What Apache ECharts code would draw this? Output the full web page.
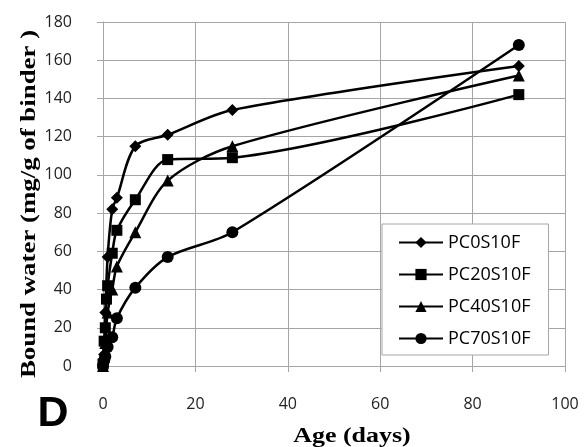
<!DOCTYPE html>
<html>
<head>
<meta charset="utf-8">
<script src="https://cdn.jsdelivr.net/npm/echarts@6/dist/echarts.min.js"></script>
<style>
  html, body { margin: 0; padding: 0; background: #fff; }
  #chart { width: 584px; height: 447px; }
</style>
</head>
<body>
<div id="chart"></div>
<script>
// age in days, bound water in mg/g of binder
const names = ['PC0S10F', 'PC20S10F', 'PC40S10F', 'PC70S10F'];
const symbols = ['diamond', 'rect', 'triangle', 'circle'];
const symbolSizes = [12, 11, 12, 12];

const pc0Age = [0, 0.25, 0.5, 1, 2, 3, 7, 14, 28, 90];
const pc0Water = [1, 6, 28, 57, 82, 88, 115, 121, 134, 157];

const pc20Age = [0, 0.25, 0.5, 0.75, 1, 2, 3, 7, 14, 28, 90];
const pc20Water = [1, 13, 20, 35, 42, 59, 71, 87, 108, 109, 142];

const pc40Age = [0, 0.25, 0.5, 1, 2, 3, 7, 14, 28, 90];
const pc40Water = [0, 5, 12, 28, 40, 52, 70, 97, 115, 152];

const pc70Age = [0, 0.25, 0.5, 1, 2, 3, 7, 14, 28, 90];
const pc70Water = [0, 3, 5, 10, 15, 25, 41, 57, 70, 168];

const ages = [pc0Age, pc20Age, pc40Age, pc70Age];
const waters = [pc0Water, pc20Water, pc40Water, pc70Water];

const chart = echarts.init(document.getElementById('chart'));

const gridColor = '#a6a6a6';
const tickFont = { color: '#222', fontSize: 16, fontFamily: 'Open Sans' };
const titleFont = 'bold 22px "Liberation Serif"';

const option = {
  animation: false,
  grid: { left: 103, right: 19, top: 22, bottom: 81 },
  xAxis: {
    type: 'value',
    min: 0,
    max: 100,
    interval: 20,
    axisLine: { lineStyle: { color: gridColor } },
    axisTick: { show: true, length: 6, lineStyle: { color: gridColor } },
    axisLabel: Object.assign({ margin: 30 }, tickFont),
    splitLine: { lineStyle: { color: gridColor } }
  },
  yAxis: {
    type: 'value',
    min: 0,
    max: 180,
    interval: 20,
    axisLine: { show: true, lineStyle: { color: gridColor } },
    axisTick: { show: true, length: 6, lineStyle: { color: gridColor } },
    axisLabel: Object.assign({ margin: 31 }, tickFont),
    splitLine: { lineStyle: { color: gridColor } }
  },
  legend: {
    orient: 'vertical',
    left: 382,
    top: 224,
    padding: [9, 18, 7, 16],
    itemGap: 13,
    itemWidth: 44,
    itemHeight: 14,
    backgroundColor: '#fff',
    borderColor: '#a6a6a6',
    borderWidth: 1,
    textStyle: { fontSize: 18, lineHeight: 19, fontFamily: 'Open Sans', color: '#000' },
    data: names
  },
  graphic: [
    {
      type: 'text',
      x: 29,
      y: 204,
      rotation: Math.PI / 2,
      scaleX: 1.22,
      style: {
        text: 'Bound water (mg/g of binder )',
        font: titleFont,
        fill: '#000',
        align: 'center',
        verticalAlign: 'middle'
      }
    },
    {
      type: 'text',
      x: 352,
      y: 436,
      scaleX: 1.18,
      style: {
        text: 'Age (days)',
        font: titleFont,
        fill: '#000',
        align: 'center',
        verticalAlign: 'middle'
      }
    },
    {
      type: 'text',
      x: 53,
      y: 414,
      style: {
        text: 'D',
        font: 'bold 43px "Liberation Sans"',
        fill: '#000',
        align: 'center',
        verticalAlign: 'middle'
      }
    }
  ],
  series: names.map((n, i) => ({
    name: n,
    type: 'line',
    smooth: 0.3,
    symbol: symbols[i],
    symbolSize: symbolSizes[i],
    showAllSymbol: true,
    lineStyle: { color: '#000', width: 2.5 },
    itemStyle: { color: '#000' },
    data: ages[i].map((a, k) => [a, waters[i][k]])
  }))
};

chart.setOption(option);
</script>
</body>
</html>
